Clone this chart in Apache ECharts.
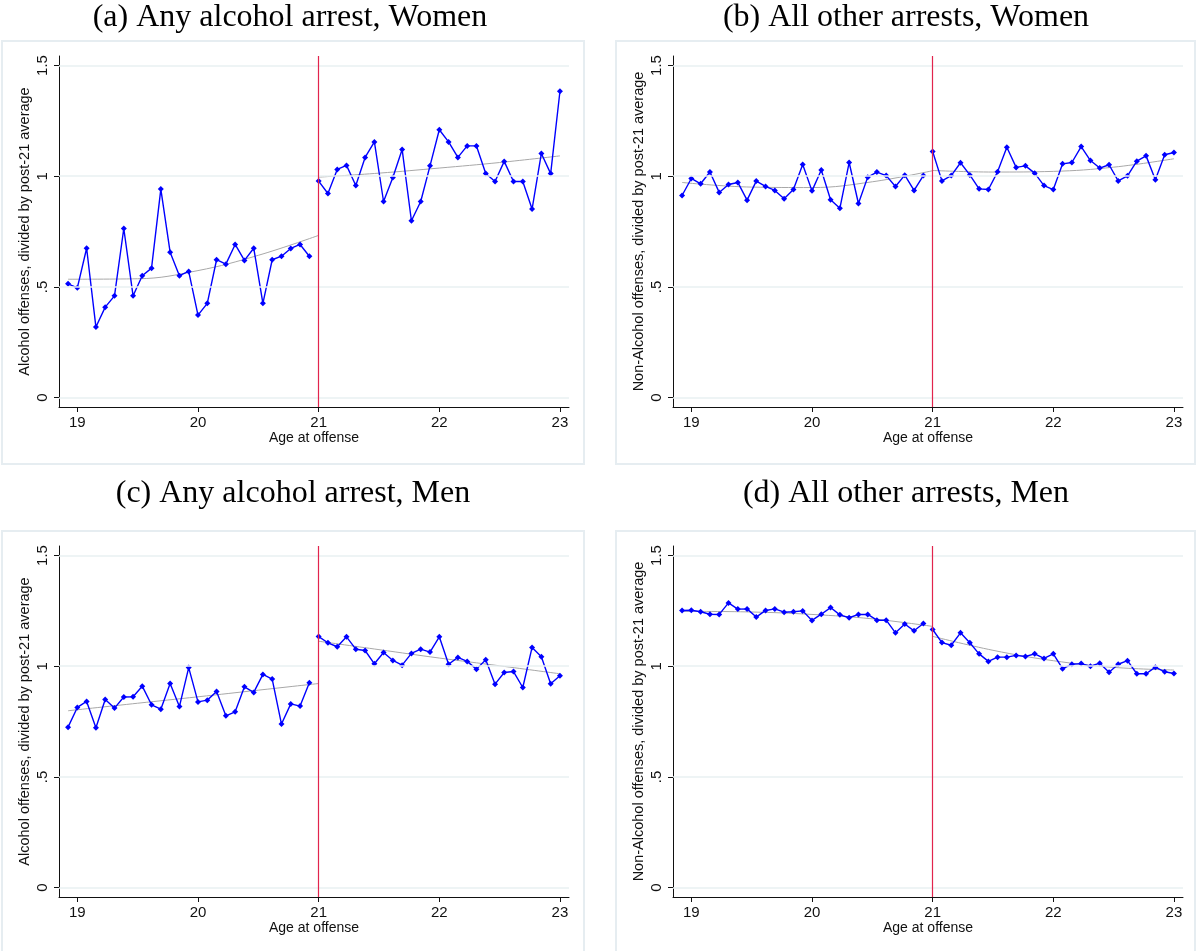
<!DOCTYPE html>
<html>
<head>
<meta charset="utf-8">
<title>Arrests by age</title>
<script src="https://cdn.jsdelivr.net/npm/echarts/dist/echarts.min.js"></script>
<style>
  html, body { margin: 0; padding: 0; background: #fff; }
  #main { width: 1197px; height: 951px; }
</style>
</head>
<body>
<div id="main"></div>
<script>
// age of offense, 13 bins per year
const agesPre = [18.923, 19, 19.077, 19.154, 19.231, 19.308, 19.385, 19.462, 19.538, 19.615, 19.692, 19.769, 19.846, 19.923,
  20, 20.077, 20.154, 20.231, 20.308, 20.385, 20.462, 20.538, 20.615, 20.692, 20.769, 20.846, 20.923]
const agesPost = [21, 21.077, 21.154, 21.231, 21.308, 21.385, 21.462, 21.538, 21.615, 21.692, 21.769, 21.846, 21.923,
  22, 22.077, 22.154, 22.231, 22.308, 22.385, 22.462, 22.538, 22.615, 22.692, 22.769, 22.846, 22.923, 23]
const fitAgesPre = [18.923, 19.5, 20, 20.5, 21]
const fitAgesPost = [21, 21.5, 22, 22.5, 23]
const xTicks = [19, 20, 21, 22, 23]
const yTicks = [0, 0.5, 1, 1.5]
const cutoffAge = 21

// (a) alcohol, women
const alcWomenPre = [0.514, 0.496, 0.675, 0.319, 0.409, 0.460, 0.764, 0.460, 0.551, 0.585, 0.942, 0.657, 0.551, 0.570,
  0.373, 0.426, 0.623, 0.603, 0.692, 0.620, 0.675, 0.426, 0.623, 0.639, 0.674, 0.692, 0.639]
const alcWomenPost = [0.978, 0.922, 1.031, 1.049, 0.958, 1.085, 1.155, 0.886, 0.994, 1.121, 0.799, 0.886, 1.047,
  1.210, 1.155, 1.085, 1.137, 1.137, 1.012, 0.976, 1.067, 0.976, 0.976, 0.852, 1.103, 1.012, 1.384]
const alcWomenFitPre = [0.535, 0.537, 0.574, 0.643, 0.733]
const alcWomenFitPost = [0.996, 1.014, 1.037, 1.062, 1.092]

// (b) other, women
const othWomenPre = [0.913, 0.990, 0.966, 1.019, 0.927, 0.963, 0.972, 0.892, 0.978, 0.954, 0.936, 0.898, 0.940, 1.053,
  0.934, 1.028, 0.894, 0.855, 1.062, 0.877, 0.996, 1.019, 1.003, 0.954, 1.005, 0.936, 1.003]
const othWomenPost = [1.112, 0.979, 1.003, 1.061, 1.006, 0.943, 0.940, 1.020, 1.131, 1.040, 1.047, 1.014, 0.958,
  0.940, 1.056, 1.062, 1.134, 1.071, 1.037, 1.052, 0.979, 1.002, 1.068, 1.092, 0.984, 1.097, 1.107]
const othWomenFitPre = [0.972, 0.951, 0.949, 0.975, 1.025]
const othWomenFitPost = [1.026, 1.019, 1.022, 1.041, 1.079]

// (c) alcohol, men
const alcMenPre = [0.725, 0.814, 0.841, 0.722, 0.850, 0.811, 0.861, 0.862, 0.910, 0.826, 0.806, 0.922, 0.818, 0.994,
  0.839, 0.847, 0.886, 0.776, 0.794, 0.907, 0.882, 0.963, 0.942, 0.739, 0.830, 0.820, 0.925]
const alcMenPost = [1.134, 1.106, 1.088, 1.133, 1.077, 1.071, 1.011, 1.062, 1.026, 1.005, 1.058, 1.077, 1.064,
  1.133, 1.009, 1.040, 1.022, 0.987, 1.029, 0.919, 0.972, 0.976, 0.904, 1.085, 1.043, 0.921, 0.957]
const alcMenFitPre = [0.799, 0.833, 0.862, 0.892, 0.922]
const alcMenFitPost = [1.113, 1.075, 1.037, 1.002, 0.966]

// (d) other, men
const othMenPre = [1.252, 1.253, 1.246, 1.235, 1.234, 1.286, 1.258, 1.259, 1.222, 1.252, 1.259, 1.244, 1.246, 1.250,
  1.207, 1.235, 1.265, 1.232, 1.219, 1.234, 1.234, 1.208, 1.208, 1.151, 1.191, 1.160, 1.193]
const othMenPost = [1.166, 1.107, 1.095, 1.151, 1.106, 1.056, 1.022, 1.041, 1.041, 1.049, 1.044, 1.056, 1.035,
  1.056, 0.989, 1.009, 1.012, 1.000, 1.014, 0.973, 1.009, 1.025, 0.966, 0.966, 0.996, 0.975, 0.967]
const othMenFitPre = [1.248, 1.245, 1.234, 1.214, 1.180]
const othMenFitPost = [1.135, 1.072, 1.025, 0.995, 0.983]

const panels = [
  { title: '(a) Any alcohol arrest, Women', yName: 'Alcohol offenses, divided by post-21 average',
    pre: alcWomenPre, post: alcWomenPost, fitPre: alcWomenFitPre, fitPost: alcWomenFitPost },
  { title: '(b) All other arrests, Women', yName: 'Non-Alcohol offenses, divided by post-21 average',
    pre: othWomenPre, post: othWomenPost, fitPre: othWomenFitPre, fitPost: othWomenFitPost },
  { title: '(c) Any alcohol arrest, Men', yName: 'Alcohol offenses, divided by post-21 average',
    pre: alcMenPre, post: alcMenPost, fitPre: alcMenFitPre, fitPost: alcMenFitPost },
  { title: '(d) All other arrests, Men', yName: 'Non-Alcohol offenses, divided by post-21 average',
    pre: othMenPre, post: othMenPost, fitPre: othMenFitPre, fitPost: othMenFitPost }
]

// layout (pixels)
const cells = [
  { left: 59, top: 56, box: [2, 41, 582, 423], titleX: 290, titleY: 18 },
  { left: 673, top: 56, box: [616, 41, 579, 423], titleX: 906, titleY: 18 },
  { left: 59, top: 546, box: [2, 531, 582, 430], titleX: 293, titleY: 494 },
  { left: 673, top: 546, box: [616, 531, 579, 430], titleX: 906, titleY: 494 }
]
const plotW = 510
const plotH = 351
const lineColor = '#111'
const gridColor = '#e8f0f2'

const zip = (xs, ys) => xs.map((x, i) => [x, ys[i]])
const yFmt = (v) => v === 0 ? '0' : String(v).replace(/^0\./, '.')

const chart = echarts.init(document.getElementById('main'))

const grid = []
const xAxis = []
const yAxis = []
const series = []
const graphic = []

panels.forEach((p, i) => {
  const c = cells[i]
  grid.push({ left: c.left, top: c.top, width: plotW, height: plotH, containLabel: false })
  xAxis.push({
    type: 'value', gridIndex: i, min: 18.848, max: 23.075,
    name: 'Age at offense', nameLocation: 'middle', nameGap: 24,
    nameTextStyle: { fontFamily: 'Liberation Sans', fontSize: 14, color: lineColor },
    axisLine: { show: true, onZero: false, lineStyle: { color: lineColor, width: 1 } },
    axisTick: { show: true, inside: false, length: 5, customValues: xTicks, lineStyle: { color: lineColor } },
    axisLabel: { show: true, margin: 8, customValues: xTicks, fontFamily: 'Liberation Sans', fontSize: 15, color: lineColor },
    splitLine: { show: false }
  })
  yAxis.push({
    type: 'value', gridIndex: i, min: -0.042, max: 1.543,
    name: p.yName, nameLocation: 'middle', nameGap: 27, nameRotate: 90,
    nameTextStyle: { fontFamily: 'Liberation Sans', fontSize: 14.5, color: lineColor },
    axisLine: { show: true, onZero: false, lineStyle: { color: lineColor, width: 1 } },
    axisTick: { show: true, inside: false, length: 5, customValues: yTicks, lineStyle: { color: lineColor } },
    axisLabel: { show: true, rotate: 90, margin: 9, customValues: yTicks, formatter: yFmt,
      fontFamily: 'Liberation Sans', fontSize: 15, color: lineColor },
    splitLine: { show: false }
  })
  // gridlines + cutoff line
  series.push({
    type: 'line', xAxisIndex: i, yAxisIndex: i, data: [], silent: true, z: 1,
    markLine: {
      silent: true, symbol: 'none', label: { show: false }, animation: false,
      lineStyle: { color: gridColor, width: 1.5, type: 'solid' },
      data: yTicks.map(v => ({ yAxis: v }))
    }
  })
  series.push({
    type: 'line', xAxisIndex: i, yAxisIndex: i, data: [], silent: true, z: 4,
    markLine: {
      silent: true, symbol: 'none', label: { show: false }, animation: false,
      lineStyle: { color: '#e2244d', width: 1.2, type: 'solid' },
      data: [{ xAxis: cutoffAge }]
    }
  })
  const fitStyle = {
    type: 'line', xAxisIndex: i, yAxisIndex: i, smooth: 0.4, showSymbol: false, z: 2,
    lineStyle: { color: '#a8a8a8', width: 1 }, animation: false
  }
  series.push(Object.assign({}, fitStyle, { data: zip(fitAgesPre, p.fitPre) }))
  series.push(Object.assign({}, fitStyle, { data: zip(fitAgesPost, p.fitPost) }))
  const dataStyle = {
    type: 'line', xAxisIndex: i, yAxisIndex: i, symbol: 'diamond', symbolSize: 6, z: 3,
    lineStyle: { color: '#0000ff', width: 1.4 }, itemStyle: { color: '#0000ff' }, animation: false
  }
  series.push(Object.assign({}, dataStyle, { data: zip(agesPre, p.pre) }))
  series.push(Object.assign({}, dataStyle, { data: zip(agesPost, p.post) }))

  graphic.push({
    type: 'rect', shape: { x: c.box[0], y: c.box[1], width: c.box[2], height: c.box[3] },
    style: { fill: 'none', stroke: '#e6edf1', lineWidth: 2 }, silent: true, z: -10
  })
  graphic.push({
    type: 'text', x: c.titleX, y: c.titleY,
    style: { text: p.title, fill: '#000', font: '32px "Liberation Serif"', textAlign: 'center', textVerticalAlign: 'middle' }
  })
})

chart.setOption({
  animation: false,
  grid: grid,
  xAxis: xAxis,
  yAxis: yAxis,
  series: series,
  graphic: graphic
})
</script>
</body>
</html>
